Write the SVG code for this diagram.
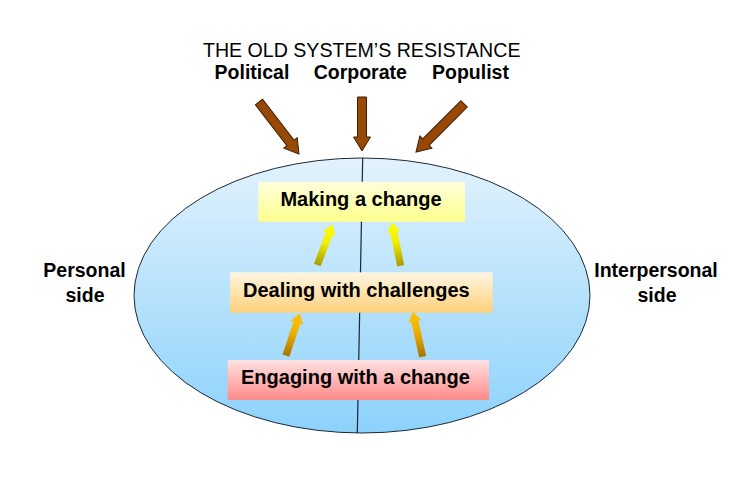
<svg xmlns="http://www.w3.org/2000/svg" width="756" height="480" viewBox="0 0 756 480">
  <defs>
    <linearGradient id="gEllipse" x1="0" y1="0" x2="0" y2="1">
      <stop offset="0" stop-color="#e2f2fd"/>
      <stop offset="1" stop-color="#8cd2fb"/>
    </linearGradient>
    <linearGradient id="gMaking" x1="0" y1="0" x2="0" y2="1">
      <stop offset="0" stop-color="#ffffdc"/>
      <stop offset="1" stop-color="#ffff8c"/>
    </linearGradient>
    <linearGradient id="gDealing" x1="0" y1="0" x2="0" y2="1">
      <stop offset="0" stop-color="#fff6e2"/>
      <stop offset="1" stop-color="#fdd07c"/>
    </linearGradient>
    <linearGradient id="gEngaging" x1="0" y1="0" x2="0" y2="1">
      <stop offset="0" stop-color="#ffe2e2"/>
      <stop offset="1" stop-color="#ff8a8a"/>
    </linearGradient>
    <linearGradient id="gYellow" x1="0" y1="0" x2="0" y2="1">
      <stop offset="0" stop-color="#ffff00"/>
      <stop offset="0.45" stop-color="#f2ee00"/>
      <stop offset="1" stop-color="#a69c00"/>
    </linearGradient>
    <linearGradient id="gOrange" x1="0" y1="0" x2="0" y2="1">
      <stop offset="0" stop-color="#ffc400"/>
      <stop offset="0.45" stop-color="#eeb000"/>
      <stop offset="1" stop-color="#a87400"/>
    </linearGradient>
  </defs>
  <style>
    .t { font-family: "Liberation Sans", Arial, sans-serif; fill: #000; }
    .b { font-weight: bold; font-size: 19.5px; }
    .bx { font-weight: bold; font-size: 20px; }
    .brown { fill: #984807; stroke: #3d1d02; stroke-width: 1; stroke-linejoin: miter; }
    .ya { fill: url(#gYellow); }
    .oa { fill: url(#gOrange); }
  </style>
  <rect width="756" height="480" fill="#ffffff"/>

  <g id="system">
    <ellipse cx="362" cy="295.5" rx="228" ry="137.5" fill="url(#gEllipse)" stroke="#1c2733" stroke-width="1"/>
    <line x1="362.7" y1="158" x2="357.3" y2="433" stroke="#1c2733" stroke-width="1.2"/>
  </g>

  <g id="title">
    <text class="t" x="361.7" y="56.5" font-size="19.6" text-anchor="middle">THE OLD SYSTEM’S RESISTANCE</text>
    <text class="t b" x="252" y="78.5" text-anchor="middle">Political</text>
    <text class="t b" x="360.3" y="78.5" text-anchor="middle">Corporate</text>
    <text class="t b" x="470.5" y="78.5" text-anchor="middle">Populist</text>
  </g>

  <g id="personal-side">
    <text class="t b" x="84.5" y="277" text-anchor="middle">Personal</text>
    <text class="t b" x="85" y="302" text-anchor="middle">side</text>
  </g>

  <g id="interpersonal-side">
    <text class="t b" x="656" y="277" text-anchor="middle">Interpersonal</text>
    <text class="t b" x="657" y="302" text-anchor="middle">side</text>
  </g>

  <g id="making-a-change">
    <rect x="258.3" y="181.7" width="206.7" height="40" fill="url(#gMaking)"/>
    <text class="t bx" x="361" y="206" text-anchor="middle">Making a change</text>
  </g>

  <g id="dealing-with-challenges">
    <rect x="230" y="272.3" width="262.7" height="40.4" fill="url(#gDealing)"/>
    <text class="t bx" x="243" y="297">Dealing with challenges</text>
  </g>

  <g id="engaging-with-a-change">
    <rect x="227.7" y="360" width="261.3" height="40" fill="url(#gEngaging)"/>
    <text class="t bx" x="241" y="384">Engaging with a change</text>
  </g>

  <g id="connectors">
    <path class="brown" transform="translate(299,154) rotate(-37.6)" d="M0,0 L-8.5,-14 L-4.5,-14 L-4.5,-65.6 L4.5,-65.6 L4.5,-14 L8.5,-14 Z"/>
    <path class="brown" transform="translate(362,151)" d="M0,0 L-8.5,-14 L-4.5,-14 L-4.5,-54 L4.5,-54 L4.5,-14 L8.5,-14 Z"/>
    <path class="brown" transform="translate(416,152) rotate(45)" d="M0,0 L-8.5,-14 L-4.5,-14 L-4.5,-68 L4.5,-68 L4.5,-14 L8.5,-14 Z"/>
    <path class="ya" transform="translate(332.7,224.3) rotate(20.7)" d="M0,0 L-6.5,10 L-3.6,10 L-3.6,43.5 L3.6,43.5 L3.6,10 L6.5,10 Z"/>
    <path class="ya" transform="translate(391.7,222.3) rotate(-11.7)" d="M0,0 L-6.5,10 L-3.6,10 L-3.6,44.3 L3.6,44.3 L3.6,10 L6.5,10 Z"/>
    <path class="oa" transform="translate(300,313.3) rotate(18.3)" d="M0,0 L-6.5,10 L-3.6,10 L-3.6,44.7 L3.6,44.7 L3.6,10 L6.5,10 Z"/>
    <path class="oa" transform="translate(412.7,311.7) rotate(-12.5)" d="M0,0 L-6.5,10 L-3.6,10 L-3.6,46.1 L3.6,46.1 L3.6,10 L6.5,10 Z"/>
  </g>
</svg>
